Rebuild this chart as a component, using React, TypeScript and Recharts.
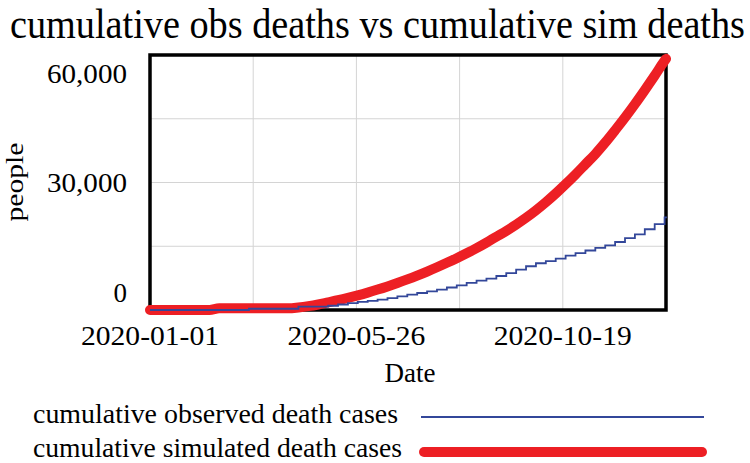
import React from "react";
import { LineChart, Line, XAxis, YAxis, CartesianGrid, ReferenceArea } from "recharts";

// days since 2020-01-01, weekly samples
const days = [
  0, 7, 14, 21, 28, 35, 42, 49, 56, 63, 70, 77, 84, 91, 98, 105, 112, 119, 126, 133,
  140, 147, 154, 161, 168, 175, 182, 189, 196, 203, 210, 217, 224, 231, 238, 245, 252,
  259, 266, 273, 280, 287, 294, 301, 308, 315, 322, 329, 336, 343, 350, 357, 364, 365,
];

const observedDeaths = [
  0, 0, 0, 0, 0, 0, 0, 0, 0, 0, 300, 300, 300, 300, 300, 800, 800, 800, 1000, 1300,
  1600, 1900, 2150, 2450, 2800, 3200, 3600, 4000, 4400, 4800, 5300, 5800, 6400, 6900,
  7400, 8000, 8700, 9500, 10300, 11000, 11500, 12100, 12800, 13400, 14000, 14600, 15200,
  16000, 16900, 17800, 19000, 20200, 21800, 22000,
];

const simulatedDeaths = [
  0, 0, 0, 0, 0, 0, 0, 400, 400, 400, 400, 400, 400, 400, 400, 600, 900, 1300, 1800,
  2300, 2850, 3450, 4100, 4800, 5550, 6350, 7200, 8100, 9050, 10050, 11100, 12200, 13350,
  14550, 15850, 17250, 18600, 20100, 21700, 23450, 25350, 27400, 29600, 31900, 34300,
  36700, 39400, 42300, 45300, 48450, 51750, 55150, 58650, 59100,
];

const xTickDays = [0, 73, 146, 219, 292, 365];
const xTickLabels = ["2020-01-01", "", "2020-05-26", "", "2020-10-19", ""];
const yTickValues = [0, 15000, 30000, 45000, 60000];
const yTickLabels = ["0", "", "30,000", "", "60,000"];

const FONT = "'Liberation Serif', 'Times New Roman', serif";

const chartData = days.map((day, i) => ({
  day,
  observed: observedDeaths[i],
  simulated: simulatedDeaths[i],
}));

function XTick(props: any) {
  const { x, y, payload } = props;
  const label = xTickLabels[xTickDays.indexOf(payload.value)];
  if (!label) return null;
  return (
    <text
      x={x}
      y={y + 35}
      textAnchor="middle"
      fontFamily={FONT}
      fontSize={27}
      fill="#000"
      textLength={138}
      lengthAdjust="spacingAndGlyphs"
    >
      {label}
    </text>
  );
}

function YTick(props: any) {
  const { x, y, payload } = props;
  const i = yTickValues.indexOf(payload.value);
  const label = yTickLabels[i];
  if (!label) return null;
  // end labels are pushed inside the plot range, like the original tool does
  let dy = 9;
  if (i === yTickValues.length - 1) dy = 28;
  if (i === 0) dy = -8;
  return (
    <text
      x={x - 23}
      y={y + dy}
      textAnchor="end"
      fontFamily={FONT}
      fontSize={27}
      fill="#000"
      {...(label.length > 1 ? { textLength: 80, lengthAdjust: "spacingAndGlyphs" } : {})}
    >
      {label}
    </text>
  );
}

export default function App() {
  return (
    <div style={{ position: "absolute", left: 0, top: 0, width: 750, height: 463, background: "#fff" }}>
      <LineChart
        width={750}
        height={463}
        data={chartData}
        margin={{ top: 55, right: 84, bottom: 0, left: 0 }}
      >
        <CartesianGrid stroke="#d4d4d4" strokeWidth={1} />
        <XAxis
          type="number"
          dataKey="day"
          domain={[0, 365]}
          ticks={xTickDays}
          interval={0}
          height={153}
          tickSize={0}
          tickMargin={0}
          axisLine={false}
          tickLine={false}
          tick={<XTick />}
        />
        <YAxis
          type="number"
          domain={[0, 60000]}
          ticks={yTickValues}
          interval={0}
          width={150}
          tickSize={0}
          tickMargin={0}
          axisLine={false}
          tickLine={false}
          tick={<YTick />}
        />
        <ReferenceArea
          x1={0}
          x2={365}
          y1={0}
          y2={60000}
          fill="none"
          fillOpacity={0}
          stroke="#000"
          strokeWidth={3.5}
          ifOverflow="visible"
        />
        <Line
          type="monotone"
          dataKey="simulated"
          stroke="#ed1f24"
          strokeWidth={10}
          strokeLinecap="round"
          strokeLinejoin="round"
          dot={false}
          isAnimationActive={false}
        />
        <Line
          type="stepAfter"
          dataKey="observed"
          stroke="#33479a"
          strokeWidth={1.8}
          dot={false}
          isAnimationActive={false}
        />
      </LineChart>
      <svg
        width={750}
        height={463}
        style={{ position: "absolute", left: 0, top: 0, pointerEvents: "none" }}
        fontFamily={FONT}
      >
        <text
          transform="translate(10,38) scale(1,1.1)"
          fontSize={38}
          textLength={735}
          lengthAdjust="spacingAndGlyphs"
        >
          cumulative obs deaths vs cumulative sim deaths
        </text>
        <text
          transform="translate(23,182) rotate(-90)"
          textAnchor="middle"
          fontSize={25}
          textLength={79}
          lengthAdjust="spacingAndGlyphs"
        >
          people
        </text>
        <text x={410} y={382} textAnchor="middle" fontSize={27}>
          Date
        </text>
        <text x={33} y={423} fontSize={27} textLength={365} lengthAdjust="spacingAndGlyphs">
          cumulative observed death cases
        </text>
        <line x1={421} x2={704} y1={417} y2={417} stroke="#33479a" strokeWidth={2} />
        <text x={33} y={457} fontSize={27} textLength={369} lengthAdjust="spacingAndGlyphs">
          cumulative simulated death cases
        </text>
        <line
          x1={424}
          x2={702}
          y1={452}
          y2={452}
          stroke="#ed1f24"
          strokeWidth={10}
          strokeLinecap="round"
        />
      </svg>
    </div>
  );
}
